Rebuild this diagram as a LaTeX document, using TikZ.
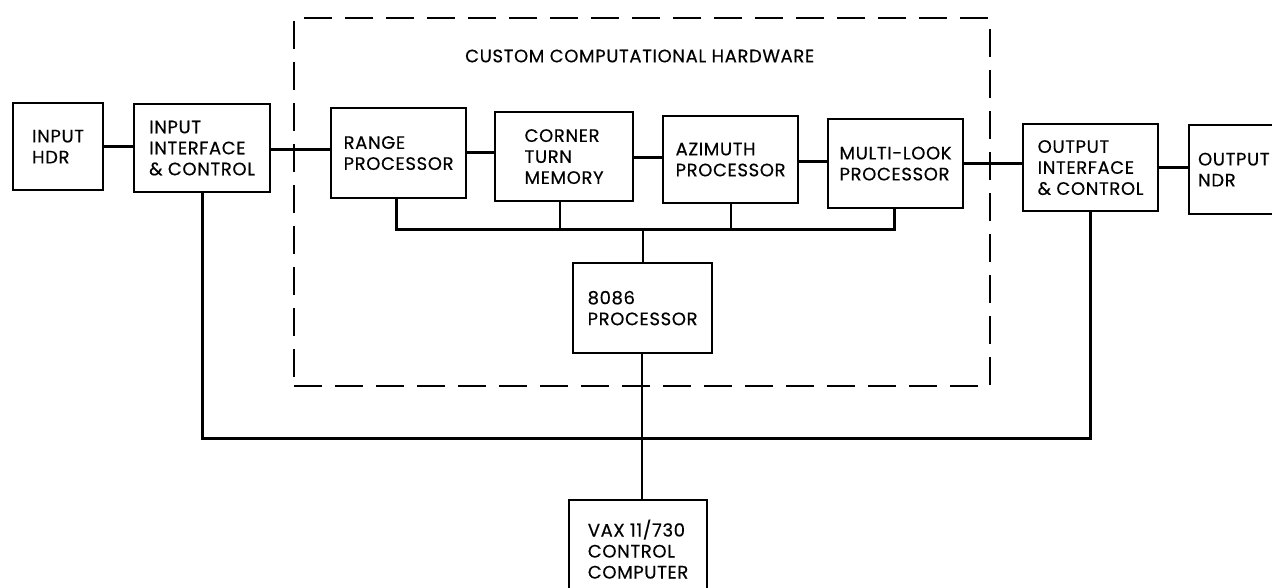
\documentclass[tikz,border=0pt]{standalone}
\usepackage{fontspec}
\setmainfont{Poppins}[LetterSpace=3.5, FakeBold=0.4]
\begin{document}
\begin{tikzpicture}[x=1pt,y=-1pt,
  box/.style={draw, line width=2.2pt, anchor=north west, align=left, inner sep=0pt,
    font=\fontsize{18}{21}\selectfont},
  conn/.style={line width=3pt},
  vconn/.style={line width=2pt},
  hwbox/.style={draw, line width=2pt, dash pattern=on 28pt off 13pt, anchor=north west, inner sep=0pt}]
\useasboundingbox (0,0) rectangle (1272,588);
\clip (0,0) rectangle (1272,588);
\fill[white] (0,0) rectangle (1272,588);
% dashed hardware enclosure
\node[hwbox, minimum width=696pt, minimum height=368pt] (hw) at (293,17) {};
\node[font=\fontsize{18}{21}\selectfont, anchor=west, inner sep=0pt] (hwlabel) at (465,56) {CUSTOM COMPUTATIONAL HARDWARE};
% boxes
\node[box, minimum width=90pt, minimum height=87pt] (inhdr) at (12,102) {INPUT\\HDR};
\node[box, minimum width=136pt, minimum height=88pt] (inif) at (133,103) {INPUT\\INTERFACE\\\& CONTROL};
\node[box, minimum width=135pt, minimum height=90pt] (range) at (330,107) {RANGE\\PROCESSOR};
\node[box, minimum width=138pt, minimum height=89pt] (corner) at (494,111) {CORNER\\TURN\\MEMORY};
\node[box, minimum width=135pt, minimum height=87pt] (azim) at (662,115) {AZIMUTH\\PROCESSOR};
\node[box, minimum width=135pt, minimum height=89pt] (multi) at (827,118) {MULTI-LOOK\\PROCESSOR};
\node[box, minimum width=135pt, minimum height=87pt] (outif) at (1022,123) {OUTPUT\\INTERFACE\\\& CONTROL};
\node[box, text width=100pt, inner xsep=9pt, minimum height=89pt] (outndr) at (1188,124) {OUTPUT\\NDR};
\node[box, minimum width=139pt, minimum height=90pt] (p8086) at (572,262) {8086\\PROCESSOR};
\node[box, minimum width=138pt, minimum height=98pt] (vax) at (568,499) {VAX 11/730\\CONTROL\\COMPUTER};
% data path
\draw[conn] (inhdr.east |- 0,147) -- (inif.west |- 0,147);
\draw[conn] (inif.east |- 0,150) -- (range.west |- 0,150);
\draw[conn] (range.east |- 0,153) -- (corner.west |- 0,153);
\draw[conn] (corner.east |- 0,158) -- (azim.west |- 0,158);
\draw[conn] (azim.east |- 0,162) -- (multi.west |- 0,162);
\draw[conn] (multi.east |- 0,164) -- (outif.west |- 0,164);
\draw[conn] (outif.east |- 0,168) -- (outndr.west |- 0,168);
% internal bus
\coordinate (bus) at (643,230);
\draw[conn, line join=miter] ([xshift=-2pt]range.south) -- ([xshift=-2pt]range.south |- bus) -- ([xshift=-1pt]multi.south |- bus) -- ([xshift=-1pt]multi.south);
\draw[vconn] ([xshift=-4pt]corner.south) -- ([xshift=-4pt]corner.south |- bus);
\draw[vconn] (azim.south) -- (azim.south |- bus);
\draw[vconn] (p8086.north) -- (p8086.north |- bus);
% control bus
\coordinate (cbus) at (640,438);
\draw[conn, line join=miter] (inif.south) -- (inif.south |- cbus) -- (outif.south |- cbus) -- (outif.south);
\draw[vconn] ([xshift=-1pt]p8086.south) -- ([xshift=-1pt]p8086.south |- vax.north);
\end{tikzpicture}
\end{document}
